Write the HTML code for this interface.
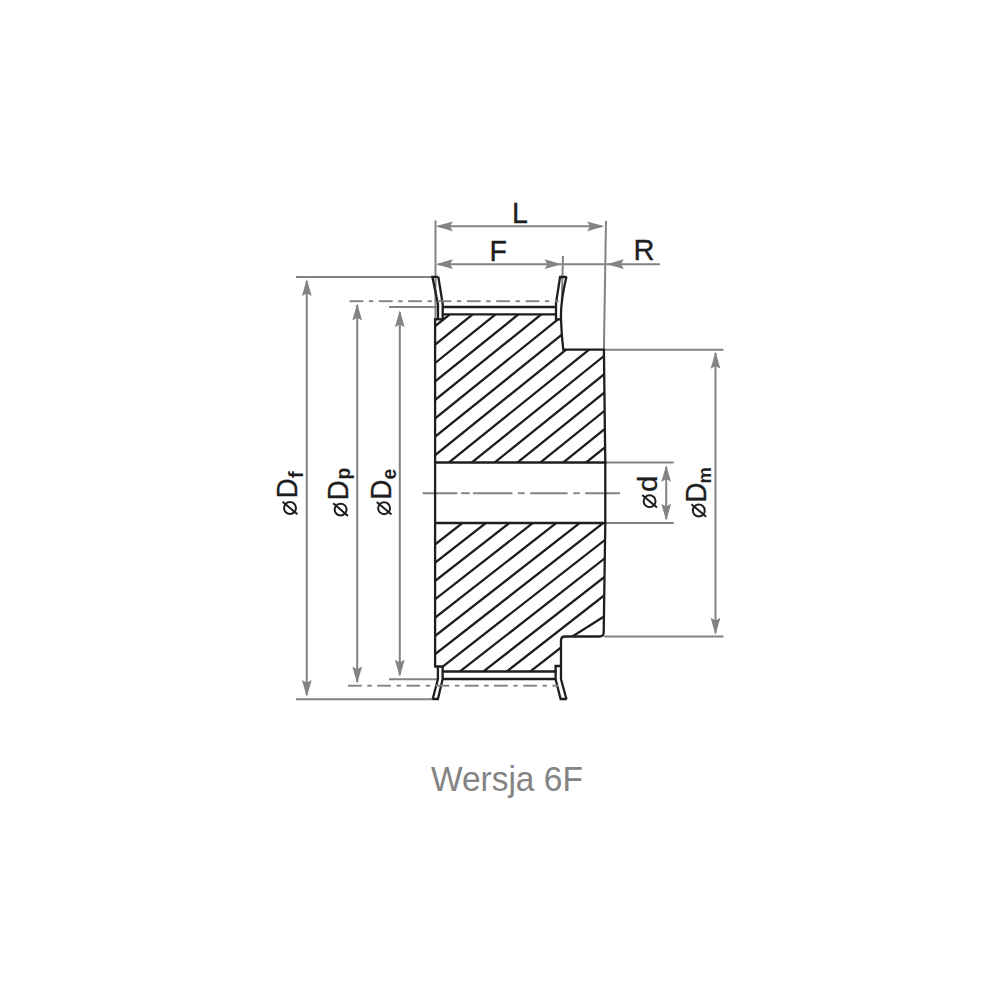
<!DOCTYPE html>
<html><head><meta charset="utf-8"><style>
html,body{margin:0;padding:0;background:#fff;}
svg{display:block;}
</style></head><body>
<svg width="1000" height="1000" viewBox="0 0 1000 1000">
<rect width="1000" height="1000" fill="#fff"/>
<defs>
<clipPath id="cu"><polygon points="435,319.3 443,319.3 443,314.4 556,314.4 556,319.3 561,319.3 561.5,327 563.3,349.7 603.9,349.7 605.3,462.5 435,462.5"/></clipPath>
<clipPath id="cl"><polygon points="435,523 605.3,523 603.6,633.5 601.5,636.5 563.5,636.5 561,639 561,666 555.5,666 555.5,671.5 443,671.5 443,666.5 435,666.5"/></clipPath>
<clipPath id="cl2"><rect x="562" y="600" width="60" height="40"/></clipPath>
<clipPath id="cl3"><rect x="400" y="500" width="161.5" height="200"/></clipPath>
</defs>
<path d="M420,338.39L620,177.27M420,356.81L620,195.69M420,375.23L620,214.11M420,393.66L620,232.54M420,412.08L620,250.96M420,430.50L620,269.38M420,448.93L620,287.81M420,467.35L620,306.23M420,485.77L620,324.65M420,504.20L620,343.08M420,522.62L620,361.50M420,541.04L620,379.92M420,559.46L620,398.34M420,577.89L620,416.77M420,596.31L620,435.19M420,614.73L620,453.61" stroke="#1e1e1e" stroke-width="2.3" fill="none" clip-path="url(#cu)"/>
<path d="M420,556.14L620,399.98M420,574.45L620,418.29M420,592.77L620,436.61M420,611.08L620,454.92M420,629.39L620,473.23M420,647.71L620,491.55M420,666.02L620,509.86M420,684.33L620,528.17M420,702.64L620,546.48M420,720.96L620,564.80M420,739.27L620,583.11" stroke="#1e1e1e" stroke-width="2.3" fill="none" clip-path="url(#cl)"/>
<g clip-path="url(#cl)"><path d="M420,757.58L620,601.42" stroke="#1e1e1e" stroke-width="2.3" fill="none" clip-path="url(#cl3)"/><path d="M560,644.3 L620,606.4" stroke="#1e1e1e" stroke-width="2.3" fill="none" clip-path="url(#cl2)"/></g>
<line x1="435.5" y1="220.5" x2="435.5" y2="319" stroke="#838383" stroke-width="2.0" />
<line x1="606" y1="220.8" x2="603.9" y2="349.7" stroke="#838383" stroke-width="2.0" />
<line x1="563" y1="256" x2="561.8" y2="300" stroke="#838383" stroke-width="2.0" />
<line x1="438" y1="226.3" x2="602" y2="226.3" stroke="#838383" stroke-width="2.0" />
<path d="M435.8,226.3 L452.80,221.40 Q450.00,226.30 450.00,226.30 L452.80,231.20 Z" fill="#838383"/>
<path d="M604.2,226.3 L587.20,231.20 Q590.00,226.30 590.00,226.30 L587.20,221.40 Z" fill="#838383"/>
<line x1="438" y1="264.2" x2="660" y2="264.2" stroke="#838383" stroke-width="2.0" />
<path d="M435.8,264.2 L452.80,259.30 Q450.00,264.20 450.00,264.20 L452.80,269.10 Z" fill="#838383"/>
<path d="M561.6,264.2 L544.60,269.10 Q547.40,264.20 547.40,264.20 L544.60,259.30 Z" fill="#838383"/>
<path d="M606.8,264.2 L623.80,259.30 Q621.00,264.20 621.00,264.20 L623.80,269.10 Z" fill="#838383"/>
<line x1="296" y1="276.9" x2="432.5" y2="276.9" stroke="#838383" stroke-width="2.0" />
<line x1="296" y1="699.2" x2="432.7" y2="699.2" stroke="#838383" stroke-width="2.0" />
<line x1="306.8" y1="281" x2="306.8" y2="695" stroke="#838383" stroke-width="2.0" />
<path d="M306.8,279.0 L311.70,296.00 Q306.80,293.20 306.80,293.20 L301.90,296.00 Z" fill="#838383"/>
<path d="M306.8,697.0 L301.90,680.00 Q306.80,682.80 306.80,682.80 L311.70,680.00 Z" fill="#838383"/>
<line x1="357.2" y1="305" x2="357.2" y2="682" stroke="#838383" stroke-width="2.0" />
<path d="M357.2,303.6 L362.10,320.60 Q357.20,317.80 357.20,317.80 L352.30,320.60 Z" fill="#838383"/>
<path d="M357.2,683.4 L352.30,666.40 Q357.20,669.20 357.20,669.20 L362.10,666.40 Z" fill="#838383"/>
<line x1="389" y1="307" x2="437" y2="307" stroke="#838383" stroke-width="2.0" />
<line x1="389" y1="679.2" x2="437" y2="679.2" stroke="#838383" stroke-width="2.0" />
<line x1="399.8" y1="312" x2="399.8" y2="675" stroke="#838383" stroke-width="2.0" />
<path d="M399.8,310.2 L404.70,327.20 Q399.80,324.40 399.80,324.40 L394.90,327.20 Z" fill="#838383"/>
<path d="M399.8,676.8 L394.90,659.80 Q399.80,662.60 399.80,662.60 L404.70,659.80 Z" fill="#838383"/>
<line x1="605" y1="462.4" x2="673.8" y2="462.4" stroke="#838383" stroke-width="2.0" />
<line x1="605" y1="522.9" x2="673.8" y2="522.9" stroke="#838383" stroke-width="2.0" />
<line x1="666.2" y1="467" x2="666.2" y2="519" stroke="#838383" stroke-width="2.0" />
<path d="M666.2,464.9 L671.10,481.90 Q666.20,479.10 666.20,479.10 L661.30,481.90 Z" fill="#838383"/>
<path d="M666.2,520.8 L661.30,503.80 Q666.20,506.60 666.20,506.60 L671.10,503.80 Z" fill="#838383"/>
<line x1="604" y1="349.7" x2="723.5" y2="349.7" stroke="#838383" stroke-width="2.0" />
<line x1="604" y1="636.5" x2="723.5" y2="636.5" stroke="#838383" stroke-width="2.0" />
<line x1="715.5" y1="353" x2="715.5" y2="633" stroke="#838383" stroke-width="2.0" />
<path d="M715.5,351.8 L720.40,368.80 Q715.50,366.00 715.50,366.00 L710.60,368.80 Z" fill="#838383"/>
<path d="M715.5,634.8 L710.60,617.80 Q715.50,620.60 715.50,620.60 L720.40,617.80 Z" fill="#838383"/>
<line x1="422.7" y1="493.2" x2="457.4" y2="493.2" stroke="#838383" stroke-width="1.9" />
<line x1="461" y1="493.2" x2="469.7" y2="493.2" stroke="#838383" stroke-width="1.9" />
<line x1="473" y1="493.2" x2="512.4" y2="493.2" stroke="#838383" stroke-width="1.9" />
<line x1="517.9" y1="493.2" x2="524.7" y2="493.2" stroke="#838383" stroke-width="1.9" />
<line x1="530.2" y1="493.2" x2="567.6" y2="493.2" stroke="#838383" stroke-width="1.9" />
<line x1="573.3" y1="493.2" x2="579.7" y2="493.2" stroke="#838383" stroke-width="1.9" />
<line x1="585.2" y1="493.2" x2="620" y2="493.2" stroke="#838383" stroke-width="1.9" />
<path d="M438.3,276.8 L432.4,276.8 L438.0,304.5 L438.0,319.3 M438.3,276.8 L442.7,304 L442.7,319.3" fill="none" stroke="#1e1e1e" stroke-width="2.3" stroke-linejoin="miter" stroke-miterlimit="1.6"/>
<line x1="434" y1="319.3" x2="443.5" y2="319.3" stroke="#1e1e1e" stroke-width="2.3" />
<line x1="435.1" y1="318.2" x2="435.1" y2="667.6" stroke="#1e1e1e" stroke-width="2.3" />
<line x1="442" y1="307" x2="557" y2="307" stroke="#1e1e1e" stroke-width="2.3" />
<line x1="442" y1="314.4" x2="556.5" y2="314.4" stroke="#1e1e1e" stroke-width="2.3" />
<path d="M556,320.4 L556,303 L560.1,277 L566.4,277 Q560.3,302 561,320 Q561.6,336 563.3,349.7 L603.9,349.7 L605.3,462.5 L605.3,523 L603.7,632.5 Q603.5,636.5 599.5,636.5 L565,636.5 Q561,636.5 561,640.5 L561,679.2 L566.4,699 L560.6,699 L555.6,679.2 L555.6,666 L561,666" fill="none" stroke="#1e1e1e" stroke-width="2.3" stroke-linejoin="miter" stroke-miterlimit="1.6"/>
<line x1="555" y1="319.3" x2="561.5" y2="319.3" stroke="#1e1e1e" stroke-width="2.3" />
<line x1="434" y1="462.5" x2="606.3" y2="462.5" stroke="#1e1e1e" stroke-width="2.3" />
<line x1="434" y1="523" x2="606.3" y2="523" stroke="#1e1e1e" stroke-width="2.3" />
<line x1="442" y1="671.5" x2="556.5" y2="671.5" stroke="#1e1e1e" stroke-width="2.3" />
<line x1="442" y1="679" x2="556.5" y2="679" stroke="#1e1e1e" stroke-width="2.3" />
<path d="M435.1,666.5 L442.6,666.5 L442.6,679.2 L437.9,699 L432.7,699 L437.9,679.2 L437.9,666.5" fill="none" stroke="#1e1e1e" stroke-width="2.3" stroke-linejoin="miter" stroke-miterlimit="1.6"/>
<line x1="349.5" y1="301.2" x2="363.25" y2="301.2" stroke="#838383" stroke-width="1.9" />
<line x1="368.85" y1="301.2" x2="373.25" y2="301.2" stroke="#838383" stroke-width="1.9" />
<line x1="378.85" y1="301.2" x2="392.6" y2="301.2" stroke="#838383" stroke-width="1.9" />
<line x1="398.2" y1="301.2" x2="402.6" y2="301.2" stroke="#838383" stroke-width="1.9" />
<line x1="408.2" y1="301.2" x2="421.95" y2="301.2" stroke="#838383" stroke-width="1.9" />
<line x1="427.55" y1="301.2" x2="431.95" y2="301.2" stroke="#838383" stroke-width="1.9" />
<line x1="437.55" y1="301.2" x2="451.3" y2="301.2" stroke="#838383" stroke-width="1.9" />
<line x1="456.9" y1="301.2" x2="461.3" y2="301.2" stroke="#838383" stroke-width="1.9" />
<line x1="466.9" y1="301.2" x2="480.65" y2="301.2" stroke="#838383" stroke-width="1.9" />
<line x1="486.25" y1="301.2" x2="490.65" y2="301.2" stroke="#838383" stroke-width="1.9" />
<line x1="496.25" y1="301.2" x2="510.0" y2="301.2" stroke="#838383" stroke-width="1.9" />
<line x1="515.6" y1="301.2" x2="520.0" y2="301.2" stroke="#838383" stroke-width="1.9" />
<line x1="525.6" y1="301.2" x2="539.35" y2="301.2" stroke="#838383" stroke-width="1.9" />
<line x1="544.95" y1="301.2" x2="549.35" y2="301.2" stroke="#838383" stroke-width="1.9" />
<line x1="555.2" y1="301.2" x2="558.8" y2="301.2" stroke="#838383" stroke-width="1.9" />
<line x1="348.0" y1="685.7" x2="361.75" y2="685.7" stroke="#838383" stroke-width="1.9" />
<line x1="367.35" y1="685.7" x2="371.75" y2="685.7" stroke="#838383" stroke-width="1.9" />
<line x1="377.2" y1="685.7" x2="390.95" y2="685.7" stroke="#838383" stroke-width="1.9" />
<line x1="396.55" y1="685.7" x2="400.95" y2="685.7" stroke="#838383" stroke-width="1.9" />
<line x1="406.4" y1="685.7" x2="420.15" y2="685.7" stroke="#838383" stroke-width="1.9" />
<line x1="425.75" y1="685.7" x2="430.15" y2="685.7" stroke="#838383" stroke-width="1.9" />
<line x1="435.6" y1="685.7" x2="449.35" y2="685.7" stroke="#838383" stroke-width="1.9" />
<line x1="454.95" y1="685.7" x2="459.35" y2="685.7" stroke="#838383" stroke-width="1.9" />
<line x1="464.8" y1="685.7" x2="478.55" y2="685.7" stroke="#838383" stroke-width="1.9" />
<line x1="484.15" y1="685.7" x2="488.55" y2="685.7" stroke="#838383" stroke-width="1.9" />
<line x1="494.0" y1="685.7" x2="507.75" y2="685.7" stroke="#838383" stroke-width="1.9" />
<line x1="513.35" y1="685.7" x2="517.75" y2="685.7" stroke="#838383" stroke-width="1.9" />
<line x1="523.2" y1="685.7" x2="536.95" y2="685.7" stroke="#838383" stroke-width="1.9" />
<line x1="542.55" y1="685.7" x2="546.95" y2="685.7" stroke="#838383" stroke-width="1.9" />
<line x1="552.4" y1="685.7" x2="558.3" y2="685.7" stroke="#838383" stroke-width="1.9" />
<text x="0" y="0" font-family='"Liberation Sans", sans-serif' font-size="28.5" font-weight="normal" fill="#1e1e1e" stroke="#1e1e1e" stroke-width="0.35" transform="translate(512.1,222.9) scale(1,1.04)">L</text>
<text x="0" y="0" font-family='"Liberation Sans", sans-serif' font-size="28.5" font-weight="normal" fill="#1e1e1e" stroke="#1e1e1e" stroke-width="0.35" transform="translate(489.6,261.2) scale(1,1.04)">F</text>
<text x="0" y="0" font-family='"Liberation Sans", sans-serif' font-size="28.5" font-weight="normal" fill="#1e1e1e" stroke="#1e1e1e" stroke-width="0.35" transform="translate(633.5,260) scale(1.02,1.04)">R</text>
<circle cx="290.0" cy="508.0" r="5.95" fill="none" stroke="#1e1e1e" stroke-width="2.0"/>
<line x1="282.60" y1="501.70" x2="297.40" y2="514.30" stroke="#1e1e1e" stroke-width="2.0"/>
<g transform="translate(297.0,498.3) rotate(-90) scale(1.0,1.04)"><text x="0" y="0" font-family='"Liberation Sans", sans-serif' font-size="27.5" font-weight="normal" fill="#1e1e1e" stroke="#1e1e1e" stroke-width="0.3">D</text></g>
<g transform="translate(303.2,477.9) rotate(-90) scale(1.0,1.04)"><text x="0" y="0" font-family='"Liberation Sans", sans-serif' font-size="19.8" font-weight="bold" fill="#1e1e1e">f</text></g>
<circle cx="340.6" cy="509.6" r="5.95" fill="none" stroke="#1e1e1e" stroke-width="2.0"/>
<line x1="333.20" y1="503.30" x2="348.00" y2="515.90" stroke="#1e1e1e" stroke-width="2.0"/>
<g transform="translate(348.0,500.3) rotate(-90) scale(1.0,1.04)"><text x="0" y="0" font-family='"Liberation Sans", sans-serif' font-size="27.5" font-weight="normal" fill="#1e1e1e" stroke="#1e1e1e" stroke-width="0.3">D</text></g>
<g transform="translate(349.6,479.6) rotate(-90) scale(1.0,1.04)"><text x="0" y="0" font-family='"Liberation Sans", sans-serif' font-size="19.5" font-weight="bold" fill="#1e1e1e">p</text></g>
<circle cx="384.1" cy="508.2" r="5.95" fill="none" stroke="#1e1e1e" stroke-width="2.0"/>
<line x1="376.70" y1="501.90" x2="391.50" y2="514.50" stroke="#1e1e1e" stroke-width="2.0"/>
<g transform="translate(390.8,499.5) rotate(-90) scale(1.0,1.04)"><text x="0" y="0" font-family='"Liberation Sans", sans-serif' font-size="27.5" font-weight="normal" fill="#1e1e1e" stroke="#1e1e1e" stroke-width="0.3">D</text></g>
<g transform="translate(395.9,479.6) rotate(-90) scale(1.0,1.04)"><text x="0" y="0" font-family='"Liberation Sans", sans-serif' font-size="19.3" font-weight="bold" fill="#1e1e1e">e</text></g>
<circle cx="649.6" cy="501.2" r="5.95" fill="none" stroke="#1e1e1e" stroke-width="2.0"/>
<line x1="642.20" y1="494.90" x2="657.00" y2="507.50" stroke="#1e1e1e" stroke-width="2.0"/>
<g transform="translate(656.6,492.0) rotate(-90) scale(1.12,1.04)"><text x="0" y="0" font-family='"Liberation Sans", sans-serif' font-size="26.3" font-weight="normal" fill="#1e1e1e" stroke="#1e1e1e" stroke-width="0.3">d</text></g>
<circle cx="698.8" cy="510.5" r="5.95" fill="none" stroke="#1e1e1e" stroke-width="2.0"/>
<line x1="691.40" y1="504.20" x2="706.20" y2="516.80" stroke="#1e1e1e" stroke-width="2.0"/>
<g transform="translate(705.8,502.5) rotate(-90) scale(1.0,1.04)"><text x="0" y="0" font-family='"Liberation Sans", sans-serif' font-size="27.5" font-weight="normal" fill="#1e1e1e" stroke="#1e1e1e" stroke-width="0.3">D</text></g>
<g transform="translate(711.0,483.6) rotate(-90) scale(1.0,1.04)"><text x="0" y="0" font-family='"Liberation Sans", sans-serif' font-size="18.3" font-weight="bold" fill="#1e1e1e">m</text></g>
<text x="0" y="0" font-family='"Liberation Sans", sans-serif' font-size="33.5" font-weight="normal" fill="#848484" transform="translate(430.9,790.6) scale(1,1.035)">Wersja 6F</text>
</svg>
</body></html>
